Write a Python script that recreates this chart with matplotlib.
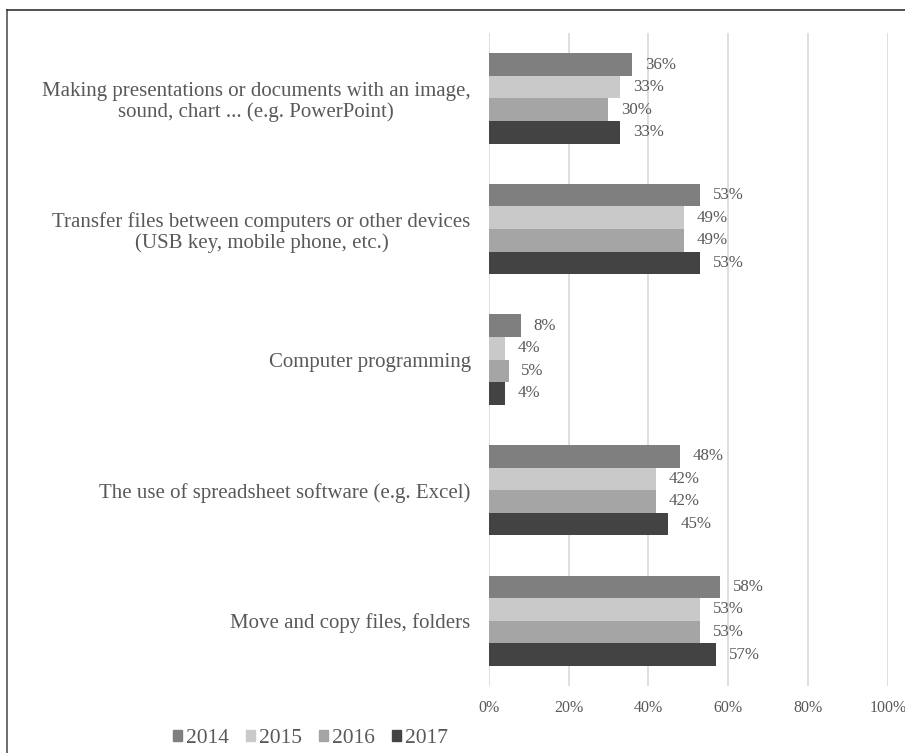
import matplotlib
matplotlib.use('Agg')
import matplotlib.pyplot as plt
import numpy as np
from matplotlib.lines import Line2D
from matplotlib.patches import Patch

categories = [
    'Making presentations or documents with an image,\nsound, chart ... (e.g. PowerPoint)',
    'Transfer files between computers or other devices\n(USB key, mobile phone, etc.)',
    'Computer programming',
    'The use of spreadsheet software (e.g. Excel)',
    'Move and copy files, folders',
]
years = ['2014', '2015', '2016', '2017']
v2014 = [36, 53, 8, 48, 58]
v2015 = [33, 49, 4, 42, 53]
v2016 = [30, 49, 5, 42, 53]
v2017 = [33, 53, 4, 45, 57]
colors = ['#7f7f7f', '#c9c9c9', '#a5a5a5', '#434343']

plt.rcParams['font.family'] = ['Liberation Serif', 'DejaVu Serif']
txt = '#595959'

fig = plt.figure(figsize=(9.05, 7.53), dpi=100)
ax = fig.add_axes([0.540, 0.089, 0.441, 0.867])

bh = 0.173
y = np.arange(len(categories))
series = [v2014, v2015, v2016, v2017]
for i, (vals, c) in enumerate(zip(series, colors)):
    pos = y + (i - 1.5) * bh
    ax.barh(pos, vals, height=bh, color=c, zorder=3)
    for p, v in zip(pos, vals):
        ax.annotate(f'{v}%', (v, p), xytext=(9, 0), textcoords='offset points',
                    va='center', ha='left', fontsize=12.2, color=txt)

ax.set_ylim(len(categories) - 0.5, -0.5)
ax.set_xlim(0, 100)
ax.set_xticks(range(0, 101, 20))
ax.set_xticklabels([f'{t}%' for t in range(0, 101, 20)])
ax.set_yticks(y)
ax.set_yticklabels(categories, multialignment='center', linespacing=1.1)
ax.tick_params(length=0, labelsize=11.5, colors=txt)
ax.tick_params(axis='y', labelsize=15, pad=13)
ax.tick_params(axis='x', pad=10)
ax.grid(axis='x', color='#d9d9d9', lw=1.2, zorder=0)
for s in ax.spines.values():
    s.set_visible(False)

handles = [Patch(color=c, label=l) for c, l in zip(colors, years)]
fig.legend(handles=handles, loc='center', bbox_to_anchor=(0.343, 0.019), ncol=4,
           frameon=False, fontsize=15.5, handlelength=0.42, handleheight=0.42,
           handletextpad=0.19, columnspacing=0.78, labelcolor=txt)

fig.add_artist(Line2D([0.008, 0.008], [0, 0.987], color='#555555', lw=1.2))
fig.add_artist(Line2D([0.008, 1.0], [0.987, 0.987], color='#333333', lw=1.2))

fig.savefig('out.png', dpi=100)
